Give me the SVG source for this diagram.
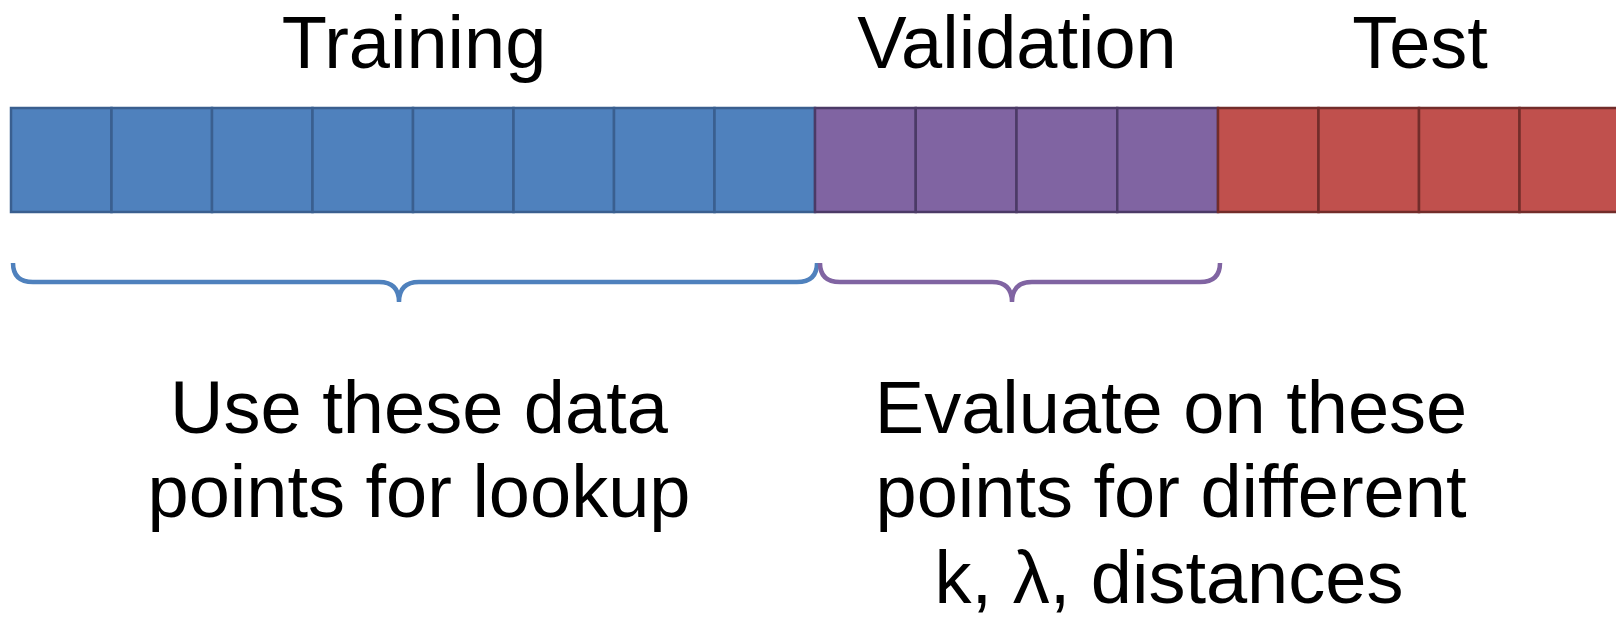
<svg xmlns="http://www.w3.org/2000/svg" width="1616" height="621" viewBox="0 0 1616 621">
<style>
text{font-family:"Liberation Sans",Arial,sans-serif;font-size:74px;fill:#000;text-anchor:middle}
.b{fill:#4F81BD;stroke:#3A5F8F;stroke-width:2.5}
.p{fill:#8064A2;stroke:#4B3A66;stroke-width:2.5}
.r{fill:#C0504D;stroke:#722C2A;stroke-width:2.5}
.brace{fill:none;stroke-width:4.5;stroke-linecap:butt}
</style>
<rect width="1616" height="621" fill="#fff"/>
<g id="labels-top">
<text x="414" y="68">Training</text>
<text x="1017" y="68">Validation</text>
<text x="1420" y="68">Test</text>
</g>
<g id="training-cells">
<rect class="b" x="11" y="108" width="100.5" height="104"/>
<rect class="b" x="111.5" y="108" width="100.5" height="104"/>
<rect class="b" x="212" y="108" width="100.5" height="104"/>
<rect class="b" x="312.5" y="108" width="100.5" height="104"/>
<rect class="b" x="413" y="108" width="100.5" height="104"/>
<rect class="b" x="513.5" y="108" width="100.5" height="104"/>
<rect class="b" x="614" y="108" width="100.5" height="104"/>
<rect class="b" x="714.5" y="108" width="100.5" height="104"/>
</g>
<g id="validation-cells">
<rect class="p" x="815" y="108" width="100.75" height="104"/>
<rect class="p" x="915.75" y="108" width="100.75" height="104"/>
<rect class="p" x="1016.5" y="108" width="100.75" height="104"/>
<rect class="p" x="1117.25" y="108" width="100.75" height="104"/>
</g>
<g id="test-cells">
<rect class="r" x="1218" y="108" width="100.5" height="104"/>
<rect class="r" x="1318.5" y="108" width="100.5" height="104"/>
<rect class="r" x="1419" y="108" width="100.5" height="104"/>
<rect class="r" x="1519.5" y="108" width="100.5" height="104"/>
</g>
<g id="braces">
<path class="brace" stroke="#4F81BD" d="M13,263 Q13,282 33,282 L379,282 Q399,282 399,302 Q399,282 419,282 L797,282 Q817,282 817,263"/>
<path class="brace" stroke="#8064A2" d="M820,263 Q820,282 840,282 L992,282 Q1012,282 1012,302 Q1012,282 1032,282 L1200,282 Q1220,282 1220,263"/>
</g>
<g id="labels-bottom">
<text x="419" y="433">Use these data</text>
<text x="419" y="517">points for lookup</text>
<text x="1171" y="433">Evaluate on these</text>
<text x="1171" y="517">points for different</text>
<text x="1169" y="603">k, λ, distances</text>
</g>
</svg>
